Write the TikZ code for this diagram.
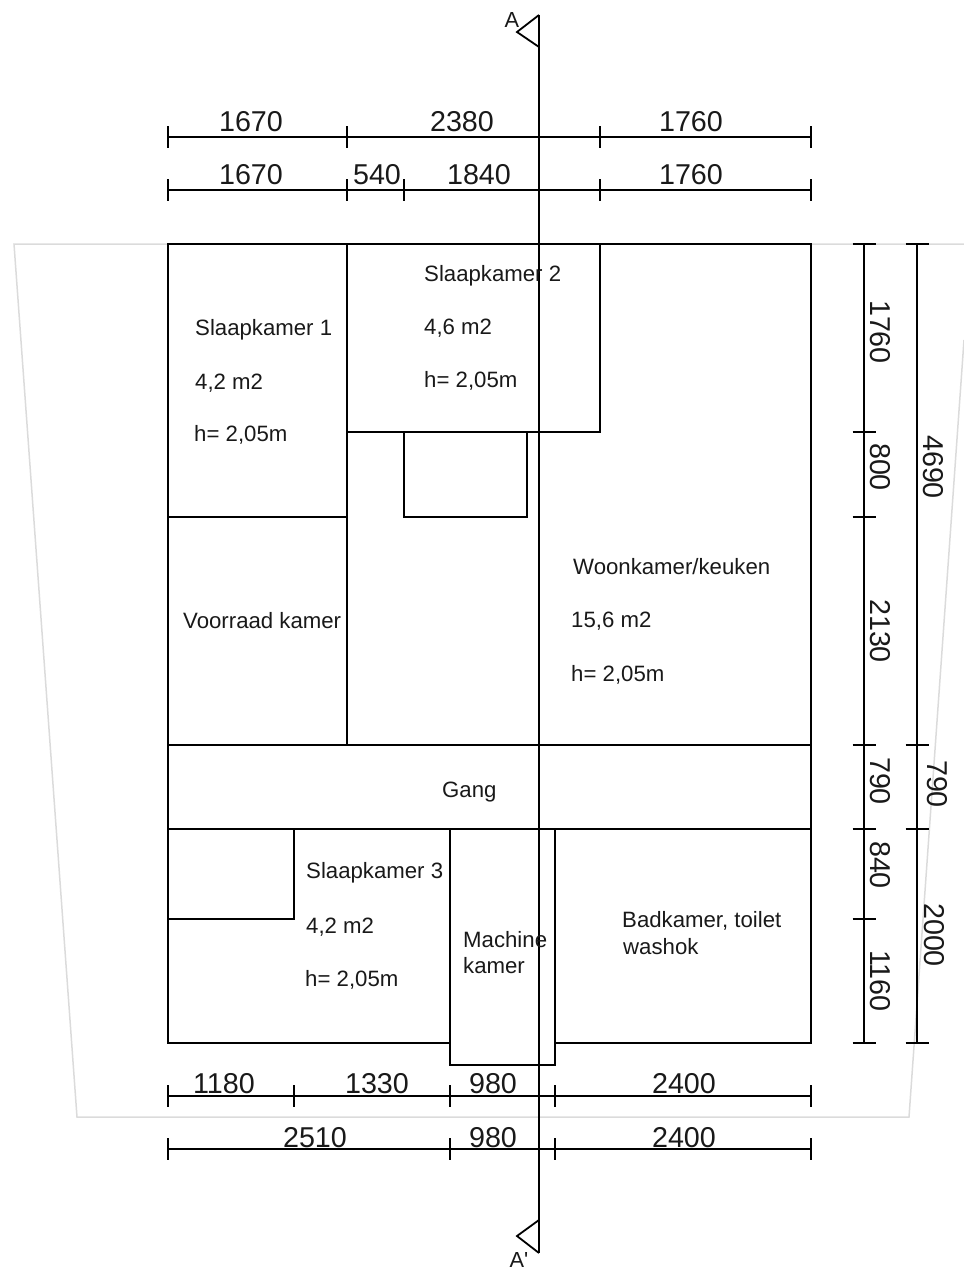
\documentclass[tikz,border=0pt]{standalone}
\usepackage{fontspec}
\setmainfont{Liberation Sans}
\newfontfamily\plainfont{Liberation Sans}
\tikzset{
  wall/.style={draw=black,line width=1.8pt,line join=miter},
  outline/.style={draw=black!14,line width=1.5pt},
  dimline/.style={draw=black,line width=1.5pt},
  dimtext/.style={inner sep=0pt,font=\fontsize{28.7}{30}\selectfont,text=black!90},
  vdimtext/.style={dimtext,rotate=-90},
  roomtext/.style={inner sep=0pt,anchor=base west,font=\fontsize{22.2}{24}\selectfont,text=black!90},
  sectext/.style={inner sep=0pt,font=\plainfont\fontsize{21.8}{24}\selectfont,text=black!90},
  hdim/.pic={\draw[dimline] (0,-11) -- (0,11);},
  vdim/.pic={\draw[dimline] (-11.5,0) -- (11.5,0);}
}
\begin{document}
\begin{tikzpicture}[x=1pt,y=-1pt]
\useasboundingbox (0,0) rectangle (964,1270);
% grey outline
\draw[outline] (964,244) -- (14,244) -- (77,1117) -- (909,1117) -- (964,340);
% rooms
\draw[wall] (168,244) rectangle (811,1043);
\draw[wall] (347,244) -- (347,745);
\draw[wall] (168,517) -- (347,517);
\draw[wall] (347,432) -- (600,432) -- (600,244);
\draw[wall] (404,432) -- (404,517) -- (527,517) -- (527,432);
\draw[wall] (168,745) -- (811,745);
\draw[wall] (168,829) -- (811,829);
\draw[wall] (168,919) -- (294,919) -- (294,829);
\draw[wall,fill=white] (450,829) rectangle (555,1065);
% section line
\coordinate (secTop) at (539,15);
\coordinate (secBot) at (539,1253);
\draw[wall] (secTop) -- (secBot);
\draw[wall] (secTop) -- (517,32) -- (539,47);
\draw[wall] (secBot) -- (517,1236) -- (539,1220);
\node[sectext] (labA) at (512,20) {A};
\node[sectext] (labB) at (519,1260) {A'};
% horizontal dimensions
\draw[dimline] (168,137) -- (811,137);
\foreach \x in {168,347,600,811} \pic at (\x,137) {hdim};
\draw[dimline] (168,190) -- (811,190);
\foreach \x in {168,347,404,600,811} \pic at (\x,190) {hdim};
\draw[dimline] (168,1096) -- (811,1096);
\foreach \x in {168,294,450,555,811} \pic at (\x,1096) {hdim};
\draw[dimline] (168,1149) -- (811,1149);
\foreach \x in {168,450,555,811} \pic at (\x,1149) {hdim};
% vertical dimensions
\draw[dimline] (864,244) -- (864,1043);
\foreach \y in {244,432,517,745,829,919,1043} \pic at (864,\y) {vdim};
\draw[dimline] (917,244) -- (917,1043);
\foreach \y in {244,745,829,1043} \pic at (917,\y) {vdim};
% dimension texts
\node[dimtext] (t1) at (251,121.7) {1670};
\node[dimtext] (t2) at (462,121.7) {2380};
\node[dimtext] (t3) at (691,121.7) {1760};
\node[dimtext] (t4) at (251,174.7) {1670};
\node[dimtext] (t5) at (377,174.7) {540};
\node[dimtext] (t6) at (479,174.7) {1840};
\node[dimtext] (t7) at (691,174.7) {1760};
\node[dimtext] (b1) at (224,1083.7) {1180};
\node[dimtext] (b2) at (377,1083.7) {1330};
\node[dimtext] (b3) at (493,1083.7) {980};
\node[dimtext] (b4) at (684,1083.7) {2400};
\node[dimtext] (b5) at (315,1137.7) {2510};
\node[dimtext] (b6) at (493,1137.7) {980};
\node[dimtext] (b7) at (684,1137.7) {2400};
\node[vdimtext] (r1) at (880.5,332) {1760};
\node[vdimtext] (r2) at (880.5,467) {800};
\node[vdimtext] (r3) at (880.5,631) {2130};
\node[vdimtext] (r4) at (880.5,781) {790};
\node[vdimtext] (r5) at (880.5,865) {840};
\node[vdimtext] (r6) at (880.5,981) {1160};
\node[vdimtext] (s1) at (933.5,467) {4690};
\node[vdimtext] (s2) at (937.5,784) {790};
\node[vdimtext] (s3) at (934.5,935) {2000};
% room texts
\node[roomtext] (a1) at (195,335) {Slaapkamer 1};
\node[roomtext] (a2) at (195,389) {4,2 m2};
\node[roomtext] (a3) at (194,441) {h= 2,05m};
\node[roomtext] (c1) at (424,281) {Slaapkamer 2};
\node[roomtext] (c2) at (424,334) {4,6 m2};
\node[roomtext] (c3) at (424,387) {h= 2,05m};
\node[roomtext] (v1) at (183,628) {Voorraad kamer};
\node[roomtext] (w1) at (573,574) {Woonkamer/keuken};
\node[roomtext] (w2) at (571,627) {15,6 m2};
\node[roomtext] (w3) at (571,681) {h= 2,05m};
\node[roomtext] (g1) at (442,797) {Gang};
\node[roomtext] (d1) at (306,878) {Slaapkamer 3};
\node[roomtext] (d2) at (306,933) {4,2 m2};
\node[roomtext] (d3) at (305,986) {h= 2,05m};
\node[roomtext] (m1) at (463,947) {Machine};
\node[roomtext] (m2) at (463,973) {kamer};
\node[roomtext] (e1) at (622,927) {Badkamer, toilet};
\node[roomtext] (e2) at (623,954) {washok};
\end{tikzpicture}
\end{document}
